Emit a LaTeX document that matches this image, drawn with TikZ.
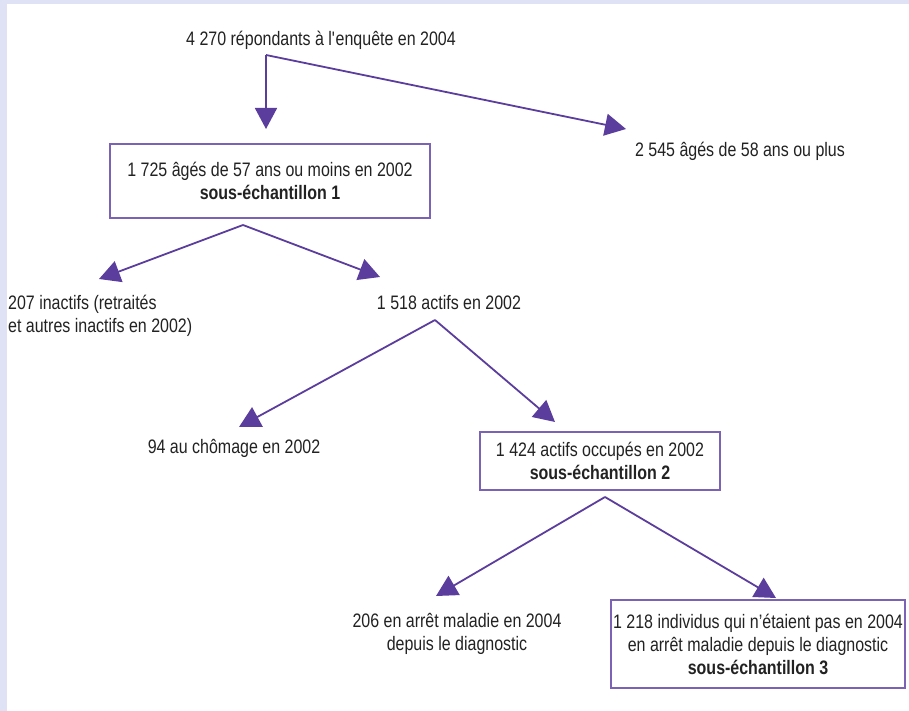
\documentclass[tikz,border=0pt]{standalone}
\usepackage{fontspec}
\setmainfont{Liberation Sans}[FakeStretch=0.82]
\usetikzlibrary{arrows.meta}
\definecolor{arrowc}{HTML}{5A3D9C}
\definecolor{boxc}{HTML}{7B62B4}
\definecolor{txtc}{HTML}{222222}
\definecolor{bandc}{HTML}{DFE1F4}
\tikzset{
  lbl/.style={text=txtc, font=\fontsize{19.5}{23}\selectfont, align=center, inner sep=0pt},
  boxed/.style={lbl, draw=boxc, line width=1.4pt},
  conn/.style={draw=arrowc, line width=1.8pt, -{Triangle[length=21pt,width=22pt]}},
}
\begin{document}
\begin{tikzpicture}[x=1pt,y=-1pt]
\useasboundingbox (0,0) rectangle (909,711);
\fill[bandc] (0,0) rectangle (909,4);
\fill[bandc] (0,0) rectangle (7,711);

\node[lbl] (top) at (321,40) {4 270 répondants à l\textquotesingle enquête en 2004};
\node[lbl] (old) at (740,151) {2 545 âgés de 58 ans ou plus};
\node[boxed, minimum width=320pt, minimum height=74pt] (b1) at (270,181) {1 725 âgés de 57 ans ou moins en 2002\\\textbf{sous-échantillon 1}};
\node[lbl, align=left, anchor=west] (inact) at (8,316) {207 inactifs (retraités\\et autres inactifs en 2002)};
\node[lbl] (act) at (449,303) {1 518 actifs en 2002};
\node[lbl] (chom) at (234,448) {94 au chômage en 2002};
\node[boxed, minimum width=240pt, minimum height=58pt] (b2) at (600,461) {1 424 actifs occupés en 2002\\\textbf{sous-échantillon 2}};
\node[lbl] (arret) at (457,634) {206 en arrêt maladie en 2004\\depuis le diagnostic};
\node[boxed, minimum width=294pt, minimum height=88pt] (b3) at (758,644) {1 218 individus qui n’étaient pas en 2004\\en arrêt maladie depuis le diagnostic\\\textbf{sous-échantillon 3}};

\coordinate (c0) at (266,55);
\coordinate (t1) at (266,129);
\coordinate (t2) at (626,129);
\coordinate (c1) at (243,225);
\coordinate (t3) at (99,279);
\coordinate (t4) at (380,277);
\coordinate (c2) at (435,320);
\coordinate (t5) at (239,427);
\coordinate (t6) at (555,422);
\coordinate (c3) at (605,497);
\coordinate (t7) at (436,596);
\coordinate (t8) at (776,598);

\draw[conn] (c0) -- (t1);
\draw[conn] (c0) -- (t2);
\draw[conn] (c1) -- (t3);
\draw[conn] (c1) -- (t4);
\draw[conn] (c2) -- (t5);
\draw[conn] (c2) -- (t6);
\draw[conn] (c3) -- (t7);
\draw[conn] (c3) -- (t8);
\end{tikzpicture}
\end{document}
